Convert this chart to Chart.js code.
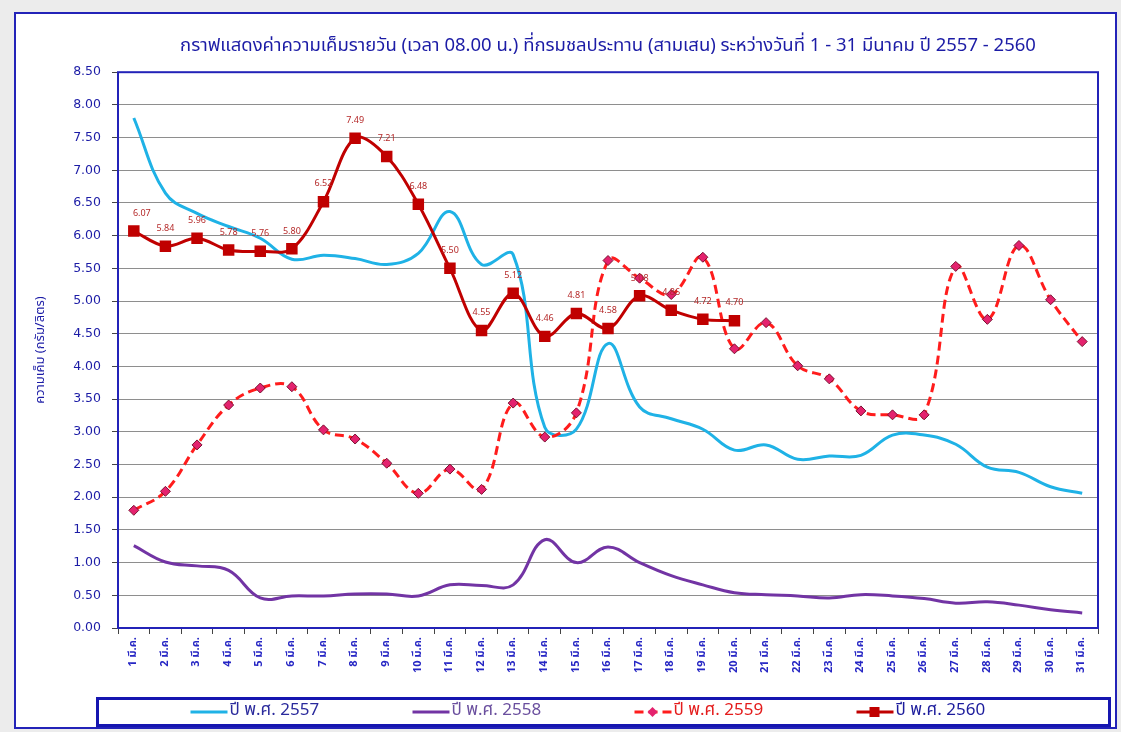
<!DOCTYPE html>
<html>
<head>
<meta charset="utf-8">
<title>ความเค็มรายวัน มีนาคม 2557 - 2560</title>
<script src="https://cdn.jsdelivr.net/npm/chart.js@4.4.1/dist/chart.umd.min.js"></script>
<style>
    html, body { margin: 0; padding: 0; background: #ececec; }
    #frame {
        position: absolute; left: 14px; top: 12px;
        width: 1103px; height: 717px;
        box-sizing: border-box;
        border: 2px solid #2323b8;
        background: #fff;
    }
    #chart { display: block; }
</style>
</head>
<body>
<div id="frame"><canvas id="chart" width="1099" height="713"></canvas></div>
<script>
// วันที่ 1 - 31 มีนาคม
const days = [
    '1 มี.ค.', '2 มี.ค.', '3 มี.ค.', '4 มี.ค.', '5 มี.ค.', '6 มี.ค.', '7 มี.ค.', '8 มี.ค.',
    '9 มี.ค.', '10 มี.ค.', '11 มี.ค.', '12 มี.ค.', '13 มี.ค.', '14 มี.ค.', '15 มี.ค.', '16 มี.ค.',
    '17 มี.ค.', '18 มี.ค.', '19 มี.ค.', '20 มี.ค.', '21 มี.ค.', '22 มี.ค.', '23 มี.ค.', '24 มี.ค.',
    '25 มี.ค.', '26 มี.ค.', '27 มี.ค.', '28 มี.ค.', '29 มี.ค.', '30 มี.ค.', '31 มี.ค.'
];

// ค่าความเค็ม (กรัม/ลิตร)
const y2557 = [7.80, 6.65, 6.34, 6.14, 5.96, 5.64, 5.70, 5.65, 5.56, 5.73, 6.37, 5.56, 5.71, 3.07, 3.04, 4.35,
               3.38, 3.20, 3.04, 2.72, 2.80, 2.58, 2.63, 2.64, 2.95, 2.95, 2.81, 2.46, 2.38, 2.16, 2.06];
const y2558 = [1.26, 1.01, 0.95, 0.88, 0.46, 0.49, 0.49, 0.52, 0.52, 0.49, 0.66, 0.65, 0.66, 1.35, 1.00, 1.24,
               1.00, 0.80, 0.66, 0.54, 0.51, 0.49, 0.46, 0.51, 0.49, 0.45, 0.38, 0.40, 0.35, 0.28, 0.23];
const y2559 = [1.80, 2.09, 2.80, 3.41, 3.67, 3.69, 3.03, 2.89, 2.52, 2.06, 2.43, 2.12, 3.44, 2.92, 3.29, 5.62,
               5.35, 5.10, 5.67, 4.27, 4.67, 4.01, 3.81, 3.32, 3.26, 3.26, 5.53, 4.72, 5.85, 5.02, 4.38];
const y2560 = [6.07, 5.84, 5.96, 5.78, 5.76, 5.80, 6.52, 7.49, 7.21, 6.48, 5.50, 4.55, 5.12, 4.46, 4.81, 4.58,
               5.08, 4.86, 4.72, 4.70];

const yTicks = { min: 0, max: 8.5, step: 0.5 };

const seriesNames = ['ปี พ.ศ. 2557', 'ปี พ.ศ. 2558', 'ปี พ.ศ. 2559', 'ปี พ.ศ. 2560'];
const legendTextColors = ['#2a2a9c', '#6a4f9e', '#e41c1c', '#1c1c9c'];

const BLUE = '#1c1ca6';
const THAI_FONT = "Tahoma, 'Noto Sans Thai', 'Noto Sans Thai UI', Loma, Garuda, 'DejaVu Sans', sans-serif";

// กรอบพื้นที่กราฟ
const plotBorder = {
    id: 'plotBorder',
    beforeDatasetsDraw(chart) {
        const { ctx, chartArea: a } = chart;
        ctx.save();
        ctx.strokeStyle = '#2323b8';
        ctx.lineWidth = 2;
        ctx.strokeRect(a.left, a.top, a.right - a.left, a.bottom - a.top);
        ctx.restore();
    }
};

// ป้ายค่าของปี 2560
const valueLabels = {
    id: 'valueLabels',
    afterDatasetsDraw(chart) {
        const { ctx } = chart;
        const meta = chart.getDatasetMeta(3);
        ctx.save();
        ctx.font = "9px " + THAI_FONT;
        ctx.fillStyle = '#b52a2a';
        ctx.textAlign = 'center';
        ctx.textBaseline = 'middle';
        meta.data.forEach((pt, i) => {
            const x = i === 0 ? pt.x + 8 : pt.x;
            ctx.fillText(y2560[i].toFixed(2), x, pt.y - 17);
        });
        ctx.restore();
    }
};

// คำอธิบายสัญลักษณ์ด้านล่าง
const boxLegend = {
    id: 'boxLegend',
    afterDraw(chart) {
        const { ctx, chartArea: a } = chart;
        const left = a.left - 20.5;
        const right = chart.width - 5.5;
        const top = chart.height - 28.5;
        const bottom = chart.height - 1.5;
        ctx.save();
        ctx.strokeStyle = '#1616b0';
        ctx.lineWidth = 3;
        ctx.strokeRect(left, top, right - left, bottom - top);

        const cy = (top + bottom) / 2;
        const cx = (left + right) / 2;
        const gap = 222;
        const itemW = 160;
        ctx.font = "17px " + THAI_FONT;
        ctx.textBaseline = 'middle';
        ctx.textAlign = 'left';
        chart.data.datasets.forEach((ds, i) => {
            const x0 = cx + (i - 1.5) * gap - itemW / 2;
            ctx.strokeStyle = ds.borderColor;
            ctx.lineWidth = 3;
            ctx.setLineDash(ds.borderDash || []);
            ctx.beginPath();
            ctx.moveTo(x0, cy);
            ctx.lineTo(x0 + 37, cy);
            ctx.stroke();
            ctx.setLineDash([]);
            const mx = x0 + 18;
            if (ds.pointStyle === 'rect') {
                ctx.fillStyle = ds.pointBackgroundColor;
                ctx.fillRect(mx - 5, cy - 5, 10, 10);
            } else if (ds.pointStyle === 'rectRot') {
                ctx.fillStyle = ds.pointBackgroundColor;
                ctx.beginPath();
                ctx.moveTo(mx, cy - 5);
                ctx.lineTo(mx + 5, cy);
                ctx.lineTo(mx, cy + 5);
                ctx.lineTo(mx - 5, cy);
                ctx.closePath();
                ctx.fill();
            }
            ctx.fillStyle = legendTextColors[i];
            ctx.fillText(ds.label, x0 + 39, cy);
        });
        ctx.restore();
    }
};

new Chart(document.getElementById('chart'), {
    type: 'line',
    data: {
        labels: days,
        datasets: [
            {
                label: seriesNames[0],
                data: y2557,
                borderColor: '#1fb2e6',
                borderWidth: 3,
                pointRadius: 0,
                tension: 0.4,
                order: 4
            },
            {
                label: seriesNames[1],
                data: y2558,
                borderColor: '#7234a4',
                borderWidth: 3,
                pointRadius: 0,
                tension: 0.4,
                order: 3
            },
            {
                label: seriesNames[2],
                data: y2559,
                borderColor: '#ff1c1c',
                borderWidth: 3,
                borderDash: [9, 5],
                pointStyle: 'rectRot',
                pointRadius: 5,
                pointBackgroundColor: '#e4226e',
                pointBorderColor: '#7a1030',
                pointBorderWidth: 1,
                tension: 0.4,
                order: 2
            },
            {
                label: seriesNames[3],
                data: y2560,
                borderColor: '#c00000',
                borderWidth: 3,
                pointStyle: 'rect',
                pointRadius: 6,
                pointBackgroundColor: '#c00000',
                pointBorderColor: '#c00000',
                tension: 0.35,
                order: 1
            }
        ]
    },
    options: {
        responsive: false,
        animation: false,
        layout: { padding: { left: 0, right: 17, top: 0, bottom: 45 } },
        plugins: {
            legend: { display: false },
            tooltip: { enabled: false },
            title: {
                display: true,
                fullSize: false,
                text: 'กราฟแสดงค่าความเค็มรายวัน (เวลา 08.00 น.) ที่กรมชลประทาน (สามเสน) ระหว่างวันที่ 1 - 31 มีนาคม ปี 2557 - 2560',
                color: BLUE,
                font: { family: THAI_FONT, size: 18.5, weight: 'normal' },
                padding: { top: 22, bottom: 14 }
            }
        },
        scales: {
            x: {
                offset: true,
                afterFit(scale) { scale.height = 54; },
                grid: {
                    offset: true,
                    drawOnChartArea: false,
                    tickLength: 6,
                    tickColor: '#444'
                },
                border: { display: false },
                ticks: {
                    autoSkip: false,
                    minRotation: 90,
                    maxRotation: 90,
                    padding: 3,
                    color: '#2626c4',
                    font: { family: THAI_FONT, size: 11, weight: 'bold' }
                }
            },
            y: {
                min: yTicks.min,
                max: yTicks.max,
                afterFit(scale) { scale.width = 102; },
                grid: {
                    color: '#8e8e8e',
                    lineWidth: 1,
                    tickLength: 6,
                    tickColor: '#444'
                },
                border: { display: false },
                ticks: {
                    stepSize: yTicks.step,
                    padding: 11,
                    color: BLUE,
                    font: { family: "'DejaVu Sans', sans-serif", size: 12.5 },
                    callback: v => v.toFixed(2)
                },
                title: {
                    display: true,
                    text: 'ความเค็ม (กรัม/ลิตร)',
                    color: BLUE,
                    font: { family: THAI_FONT, size: 13 },
                    padding: { top: 18, bottom: 0 }
                }
            }
        }
    },
    plugins: [plotBorder, valueLabels, boxLegend]
});
</script>
</body>
</html>
